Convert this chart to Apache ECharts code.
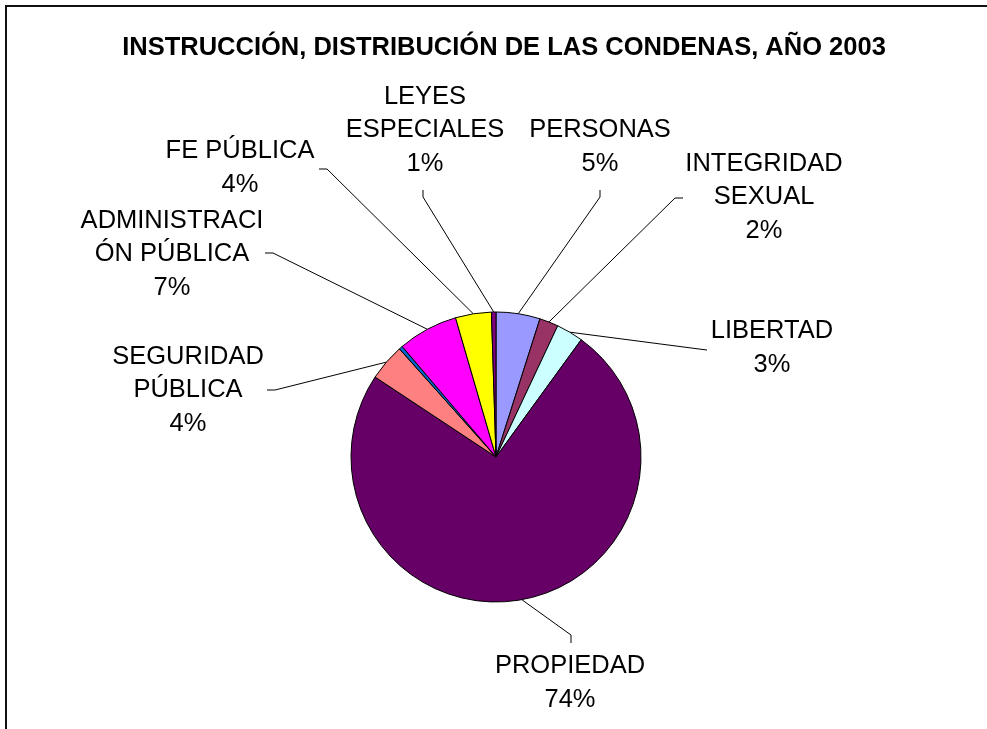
<!DOCTYPE html>
<html>
<head>
<meta charset="utf-8">
<script src="https://cdn.jsdelivr.net/npm/echarts@6/dist/echarts.min.js"></script>
<style>
  html, body { margin: 0; padding: 0; background: #fff; }
  #chart { width: 987px; height: 729px; }
</style>
</head>
<body>
<div id="chart"></div>
<script>
// slices clockwise from 12 o'clock (%)
const categories = [
  'PERSONAS',
  'INTEGRIDAD\nSEXUAL',
  'LIBERTAD',
  'PROPIEDAD',
  'SEGURIDAD\nPÚBLICA',
  'OTROS',
  'ADMINISTRACI\nÓN PÚBLICA',
  'FE PÚBLICA',
  'LEYES\nESPECIALES'
]
const values = [4.9, 2.1, 3.0, 74.3, 4.1, 0.4, 6.7, 4.0, 0.5]
const labelled = [true, true, true, true, true, false, true, true, true]

const colors = ['#9999FF', '#993366', '#CCFFFF', '#660066', '#FF8080', '#0066CC', '#FF00FF', '#FFFF00', '#800080']

// where each label block sits, and where its leader line starts
const labelBoxes = [
  { x: 600, y: 147, anchor: [600, 190], elbow: [600, 197] },
  { x: 764, y: 197, anchor: [683, 198], elbow: [675, 198] },
  { x: 772, y: 348, anchor: [707, 350], elbow: [699, 349] },
  { x: 570, y: 683, anchor: [571, 643], elbow: [571, 635] },
  { x: 188, y: 390, anchor: [267, 390], elbow: [275, 390] },
  null,
  { x: 172, y: 254, anchor: [265, 253], elbow: [273, 253] },
  { x: 240, y: 168, anchor: [319, 169], elbow: [327, 169] },
  { x: 425, y: 130, anchor: [423, 190], elbow: [423, 197] }
]

const myChart = echarts.init(document.getElementById('chart'))

myChart.setOption({
  animation: false,
  title: {
    text: 'INSTRUCCIÓN, DISTRIBUCIÓN DE LAS CONDENAS, AÑO 2003',
    left: 499,
    top: 30,
    textAlign: 'center',
    textStyle: {
      fontFamily: 'Liberation Sans, Arial, sans-serif',
      fontSize: 25.5,
      fontWeight: 'bold',
      color: '#000'
    }
  },
  graphic: [
    {
      type: 'rect',
      shape: { x: 6, y: 6, width: 1100, height: 900 },
      style: { fill: 'none', stroke: '#111', lineWidth: 2 },
      silent: true
    }
  ],
  series: [
    {
      type: 'pie',
      center: [496, 457],
      radius: 145,
      startAngle: 90,
      clockwise: true,
      avoidLabelOverlap: false,
      itemStyle: { borderColor: '#000', borderWidth: 1 },
      emphasis: { disabled: true },
      label: {
        show: true,
        position: 'outside',
        fontFamily: 'Liberation Sans, Arial, sans-serif',
        fontSize: 25.5,
        lineHeight: 33.5,
        color: '#000',
        align: 'center',
        formatter: p => p.name + '\n' + Math.round(p.percent) + '%'
      },
      labelLine: {
        show: true,
        smooth: false,
        lineStyle: { color: '#000', width: 1 }
      },
      labelLayout: params => {
        const box = labelBoxes[params.dataIndex]
        if (!box) return {}
        const pts = params.labelLinePoints
        return {
          x: box.x,
          y: box.y,
          align: 'center',
          verticalAlign: 'middle',
          labelLinePoints: [pts[0], box.elbow, box.anchor]
        }
      },
      data: categories.map((name, i) => ({
        name: name,
        value: values[i],
        itemStyle: { color: colors[i] },
        label: { show: labelled[i] },
        labelLine: { show: labelled[i] }
      }))
    }
  ]
})
</script>
</body>
</html>
